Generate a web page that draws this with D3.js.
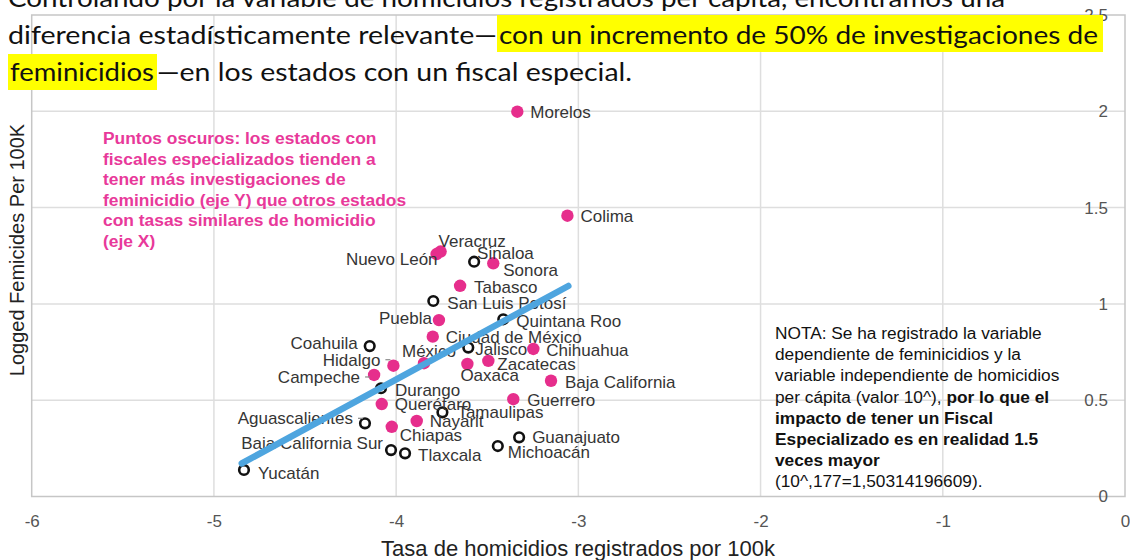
<!DOCTYPE html>
<html>
<head>
<meta charset="utf-8">
<script src="https://cdn.jsdelivr.net/npm/d3@7"></script>
<style>
  body { margin: 0; background: #fff; }
  svg { display: block; }
  .grid-line { stroke: #dedede; stroke-width: 1.5; }
  .frame { fill: none; stroke: #c6c6c6; stroke-width: 1.5; }
  .axis text { font-family: 'Liberation Sans', Arial, sans-serif; font-size: 17px; fill: #555; }
  .axis-title { font-family: 'Liberation Sans', Arial, sans-serif; fill: #222; }
  .state-label { font-family: 'Liberation Sans', Arial, sans-serif; font-size: 17px; fill: #353535; }
  .pink-note { font-family: 'Liberation Sans', Arial, sans-serif; font-size: 17.4px; font-weight: bold; fill: #e8399a; }
  .nota { font-family: 'Liberation Sans', Arial, sans-serif; font-size: 17.3px; fill: #111; }
  .title-text { font-family: Lato, 'Open Sans', sans-serif; font-size: 25px; fill: #111; }
</style>
</head>
<body>
<svg id="chart" width="1130" height="560"></svg>
<script>
//////////////////////////////////////////////////////////////////////////////////////////
// Data
//////////////////////////////////////////////////////////////////////////////////////////

var states = [
  'Morelos', 'Colima', 'Veracruz', 'Nuevo León', 'Sinaloa', 'Sonora', 'Tabasco',
  'San Luis Potosí', 'Puebla', 'Quintana Roo', 'Ciudad de México', 'Coahuila', 'Jalisco',
  'Chihuahua', 'México', 'Hidalgo', 'Oaxaca', 'Zacatecas', 'Campeche', 'Baja California',
  'Durango', 'Guerrero', 'Querétaro', 'Tamaulipas', 'Aguascalientes', 'Nayarit', 'Chiapas',
  'Guanajuato', 'Baja California Sur', 'Tlaxcala', 'Michoacán', 'Yucatán'
]

// log homicide rate per 100k (x)
var homicides = [
  -3.335, -3.060, -3.756, -3.778, -3.572, -3.467, -3.649,
  -3.796, -3.765, -3.412, -3.799, -4.145, -3.604,
  -3.247, -3.847, -4.015, -3.609, -3.494, -4.121, -3.150,
  -4.083, -3.357, -4.079, -3.746, -4.171, -3.887, -4.024,
  -3.325, -4.028, -3.951, -3.442, -4.835
]

// logged femicides per 100k (y)
var femicides = [
  1.998, 1.458, 1.272, 1.259, 1.219, 1.211, 1.094,
  1.015, 0.916, 0.920, 0.830, 0.781, 0.773,
  0.766, 0.692, 0.679, 0.688, 0.704, 0.631, 0.601,
  0.562, 0.505, 0.480, 0.437, 0.380, 0.392, 0.362,
  0.307, 0.241, 0.224, 0.262, 0.138
]

// 1 = pink filled point, 0 = hollow point
var special_fiscal = [
  1, 1, 1, 1, 0, 1, 1,
  0, 1, 0, 1, 0, 0,
  1, 1, 1, 1, 1, 1, 1,
  0, 1, 1, 0, 0, 1, 1,
  0, 0, 0, 0, 0
]

var trend_x = [-4.847, -3.055]
var trend_y = [0.172, 1.093]

var x_ticks = [-6, -5, -4, -3, -2, -1, 0]
var y_ticks = [0, 0.5, 1, 1.5, 2, 2.5]

var pink_note = [
  'Puntos oscuros: los estados con',
  'fiscales especializados tienden a',
  'tener más investigaciones de',
  'feminicidio (eje Y) que otros estados',
  'con tasas similares de homicidio',
  '(eje X)'
]

// each line: list of [text, bold]
var nota_lines = [
  [['NOTA: Se ha registrado la variable', false]],
  [['dependiente de feminicidios y la', false]],
  [['variable independiente de homicidios', false]],
  [['per cápita (valor 10^), ', false], ['por lo que el', true]],
  [['impacto de tener un Fiscal', true]],
  [['Especializado es en realidad 1.5', true]],
  [['veces mayor', true]],
  [['(10^,177=1,50314196609).', false]]
]

//////////////////////////////////////////////////////////////////////////////////////////
// Layout
//////////////////////////////////////////////////////////////////////////////////////////

// label placement: [dx, dy, anchor, leader tick]
var label_place = {
  'Morelos': [13, 0, 'start'],
  'Colima': [13, 0, 'start'],
  'Veracruz': [-2, -10, 'start'],
  'Nuevo León': [1, 5, 'end'],
  'Sinaloa': [3, -9, 'start'],
  'Sonora': [10, 7, 'start'],
  'Tabasco': [14, 1, 'start'],
  'San Luis Potosí': [14, 2, 'start'],
  'Puebla': [-7, -2, 'end'],
  'Quintana Roo': [13, 2, 'start'],
  'Ciudad de México': [13, 0, 'start'],
  'Coahuila': [-12, -3, 'end'],
  'Jalisco': [7, 1, 'start'],
  'Chihuahua': [13, 1, 'start'],
  'México': [-22, -12, 'start'],
  'Hidalgo': [-13, -6, 'end', true],
  'Oaxaca': [-7, 11, 'start'],
  'Zacatecas': [9, 3, 'start'],
  'Campeche': [-14, 2, 'end', true],
  'Baja California': [14, 1, 'start'],
  'Durango': [14, 2, 'start'],
  'Guerrero': [14, 1, 'start'],
  'Querétaro': [13, 0, 'start'],
  'Tamaulipas': [15, 0, 'start'],
  'Aguascalientes': [-12, -5, 'end', true],
  'Nayarit': [13, 0, 'start'],
  'Chiapas': [8, 8, 'start'],
  'Guanajuato': [13, 0, 'start'],
  'Baja California Sur': [-8, -7, 'end'],
  'Tlaxcala': [13, 2, 'start'],
  'Michoacán': [10, 6, 'start'],
  'Yucatán': [14, 3, 'start']
}

var svg = d3.select('#chart')

var x = d3.scaleLinear().domain([-6, 0]).range([31.7, 1125])
var y = d3.scaleLinear().domain([0, 2.5]).range([496.5, 15])

//////////////////////////////////////////////////////////////////////////////////////////
// Grid, frame and axes
//////////////////////////////////////////////////////////////////////////////////////////

svg.append('g')
  .selectAll('line')
  .data(x_ticks.slice(1, -1))
  .join('line')
  .attr('class', 'grid-line')
  .attr('x1', d => x(d)).attr('x2', d => x(d))
  .attr('y1', y(0)).attr('y2', y(2.5))

svg.append('g')
  .selectAll('line')
  .data(y_ticks.slice(1, -1))
  .join('line')
  .attr('class', 'grid-line')
  .attr('x1', x(-6)).attr('x2', x(0))
  .attr('y1', d => y(d)).attr('y2', d => y(d))

svg.append('rect')
  .attr('class', 'frame')
  .attr('x', x(-6)).attr('y', y(2.5))
  .attr('width', x(0) - x(-6)).attr('height', y(0) - y(2.5))

svg.append('g')
  .attr('class', 'axis')
  .attr('transform', 'translate(0,' + y(0) + ')')
  .call(d3.axisBottom(x).tickValues(x_ticks).tickSize(0).tickPadding(18).tickFormat(d => String(d)))
  .call(g => g.select('.domain').remove())

svg.append('g')
  .attr('class', 'axis')
  .attr('transform', 'translate(1110,0)')
  .call(d3.axisLeft(y).tickValues(y_ticks).tickSize(0).tickPadding(2).tickFormat(d => String(d)))
  .call(g => g.select('.domain').remove())

svg.append('text')
  .attr('class', 'axis-title')
  .attr('x', 578).attr('y', 556)
  .attr('text-anchor', 'middle')
  .style('font-size', '22px')
  .text('Tasa de homicidios registrados por 100k')

svg.append('text')
  .attr('class', 'axis-title')
  .attr('transform', 'translate(24,250) rotate(-90)')
  .attr('text-anchor', 'middle')
  .style('font-size', '20px')
  .text('Logged Femicides Per 100K')

//////////////////////////////////////////////////////////////////////////////////////////
// Points and labels
//////////////////////////////////////////////////////////////////////////////////////////

var rows = states.map((s, i) => ({
  name: s, hx: homicides[i], fy: femicides[i], fiscal: special_fiscal[i]
}))

var g_points = svg.append('g')

g_points.selectAll('circle')
  .data(rows)
  .join('circle')
  .attr('cx', d => x(d.hx))
  .attr('cy', d => y(d.fy))
  .attr('r', d => d.fiscal ? 6.2 : 4.8)
  .attr('fill', d => d.fiscal ? '#e62e8c' : '#fff')
  .attr('stroke', d => d.fiscal ? 'none' : '#111')
  .attr('stroke-width', 2.6)

var g_labels = svg.append('g')

g_labels.selectAll('text')
  .data(rows)
  .join('text')
  .attr('class', 'state-label')
  .attr('x', d => x(d.hx) + label_place[d.name][0])
  .attr('y', d => y(d.fy) + label_place[d.name][1])
  .attr('dy', '0.35em')
  .attr('text-anchor', d => label_place[d.name][2])
  .text(d => d.name)

// small leader ticks next to some labels
g_labels.selectAll('line')
  .data(rows.filter(d => label_place[d.name][3]))
  .join('line')
  .attr('x1', d => x(d.hx) + label_place[d.name][0] + 5)
  .attr('x2', d => x(d.hx) + label_place[d.name][0] + 10)
  .attr('y1', d => y(d.fy) + label_place[d.name][1])
  .attr('y2', d => y(d.fy) + label_place[d.name][1])
  .attr('stroke', '#888')
  .attr('stroke-width', 1.2)

// trend line
svg.append('line')
  .attr('x1', x(trend_x[0])).attr('y1', y(trend_y[0]))
  .attr('x2', x(trend_x[1])).attr('y2', y(trend_y[1]))
  .attr('stroke', '#4ea5df')
  .attr('stroke-width', 6.5)
  .attr('stroke-linecap', 'round')

//////////////////////////////////////////////////////////////////////////////////////////
// Notes
//////////////////////////////////////////////////////////////////////////////////////////

svg.append('g')
  .selectAll('text')
  .data(pink_note)
  .join('text')
  .attr('class', 'pink-note')
  .attr('x', 103)
  .attr('y', (d, i) => 144 + i * 20.6)
  .text(d => d)

var nota = svg.append('g')
nota_lines.forEach(function(line, i) {
  var t = nota.append('text')
    .attr('class', 'nota')
    .attr('x', 775)
    .attr('y', 339 + i * 21.2)
  line.forEach(function(part) {
    t.append('tspan')
      .style('font-weight', part[1] ? 'bold' : 'normal')
      .text(part[0])
  })
})

//////////////////////////////////////////////////////////////////////////////////////////
// Title overlay (highlighted parts in yellow)
//////////////////////////////////////////////////////////////////////////////////////////

var title_segments = [
  { text: 'Controlando por la variable de homicidios registrados per cápita, encontramos una', x0: 8, x1: 1005, base: 7 },
  { text: 'diferencia estadísticamente relevante—', x0: 8, x1: 497, base: 44 },
  { text: 'con un incremento de 50% de investigaciones de', x0: 499, x1: 1098, base: 44, mark: [497, 15, 606, 37] },
  { text: 'feminicidios', x0: 10, x1: 154, base: 81, mark: [8, 54, 149, 36] },
  { text: '—en los estados con un fiscal especial.', x0: 157, x1: 632, base: 81 }
]

var g_title = svg.append('g')

title_segments.forEach(function(seg) {
  if (seg.mark) {
    g_title.append('rect')
      .attr('x', seg.mark[0]).attr('y', seg.mark[1])
      .attr('width', seg.mark[2]).attr('height', seg.mark[3])
      .attr('fill', '#ffff00')
  }
  g_title.append('text')
    .attr('class', 'title-text')
    .attr('x', seg.x0)
    .attr('y', seg.base)
    .attr('textLength', seg.x1 - seg.x0)
    .attr('lengthAdjust', 'spacingAndGlyphs')
    .text(seg.text)
})
</script>
</body>
</html>
